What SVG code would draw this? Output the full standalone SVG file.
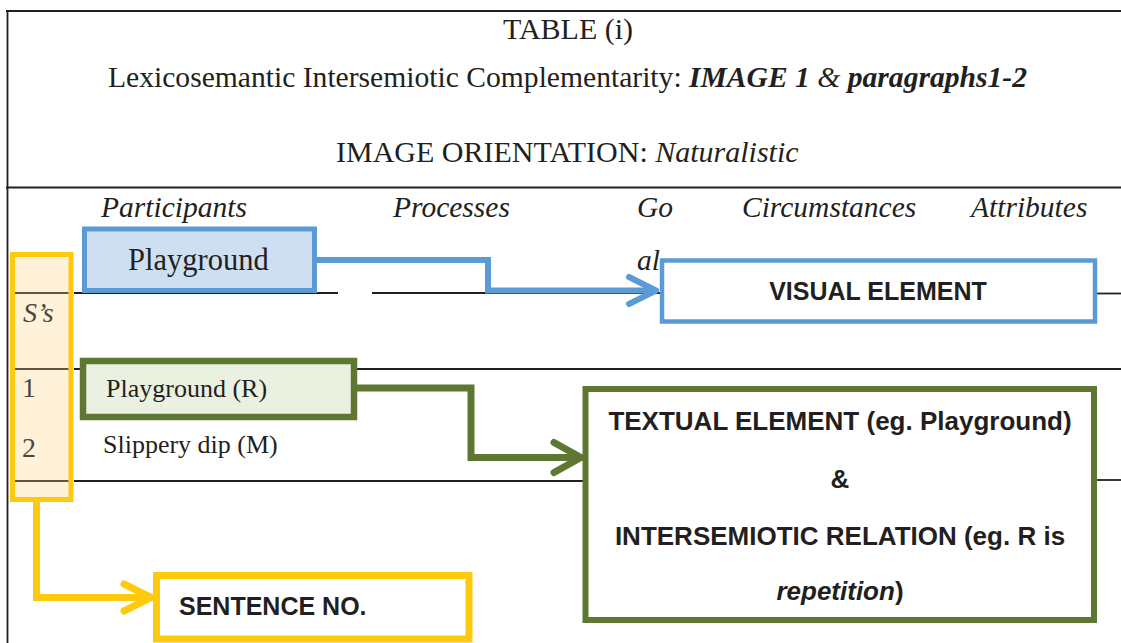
<svg xmlns="http://www.w3.org/2000/svg" width="1121" height="643" viewBox="0 0 1121 643">
<style>
.serif{font-family:"Liberation Serif","Times New Roman",serif;fill:#231f20}
.hdr{font-family:"Liberation Serif","Times New Roman",serif;font-style:italic;font-size:29.5px;fill:#231f20}
.sans{font-family:"Liberation Sans",Arial,sans-serif;font-weight:bold;fill:#231f20}
.rule{stroke:#231f20;stroke-width:1.8;fill:none}
.rule-in{stroke:#5c5546;stroke-width:1.8;fill:none}
.col-txt{font-family:"Liberation Serif","Times New Roman",serif;fill:#4a4740}
.conn{fill:none;stroke-linejoin:miter}
</style>
<defs>
<marker id="arrBlue" markerUnits="userSpaceOnUse" viewBox="0 0 40 40" markerWidth="40" markerHeight="40" refX="34" refY="20" orient="auto">
<path d="M7 6.5 L34 20 L7 33.5" fill="none" stroke="#5b9bd5" stroke-width="6" stroke-linecap="round" stroke-linejoin="round"/>
</marker>
<marker id="arrGreen" markerUnits="userSpaceOnUse" viewBox="0 0 40 40" markerWidth="40" markerHeight="40" refX="34" refY="20" orient="auto">
<path d="M7 5 L34 20 L7 35" fill="none" stroke="#5e7834" stroke-width="7" stroke-linecap="round" stroke-linejoin="round"/>
</marker>
<marker id="arrYellow" markerUnits="userSpaceOnUse" viewBox="0 0 40 40" markerWidth="40" markerHeight="40" refX="34" refY="20" orient="auto">
<path d="M7 6.5 L34 20 L7 33.5" fill="none" stroke="#ffc90e" stroke-width="7" stroke-linecap="round" stroke-linejoin="round"/>
</marker>
</defs>
<rect width="1121" height="643" fill="#ffffff"/>

<g id="table">
<line class="rule" x1="6" y1="11" x2="1121" y2="11" stroke-width="2.5"/>
<line class="rule" x1="7.5" y1="10" x2="7.5" y2="643" stroke-width="2"/>
<line class="rule" x1="6" y1="187.5" x2="1121" y2="187.5" stroke-width="3.5"/>
<text class="serif" x="503" y="39" font-size="30">TABLE (i)</text>
<text class="serif" x="108" y="87" font-size="29.6">Lexicosemantic Intersemiotic Complementarity: <tspan font-style="italic" font-weight="bold">IMAGE 1</tspan> <tspan font-style="italic">&amp;</tspan> <tspan font-style="italic" font-weight="bold">paragraphs1-2</tspan></text>
<text class="serif" x="336" y="162" font-size="30">IMAGE ORIENTATION: <tspan font-style="italic">Naturalistic</tspan></text>
<text class="hdr" x="101" y="217">Participants</text>
<text class="hdr" x="393" y="217">Processes</text>
<text class="hdr" x="637" y="217">Go</text>
<text class="hdr" x="742" y="217">Circumstances</text>
<text class="hdr" x="971" y="217">Attributes</text>
<text class="hdr" x="637" y="270">al</text>
<line class="rule" x1="74" y1="293" x2="338" y2="293"/>
<line class="rule" x1="372" y1="293" x2="662" y2="293"/>
<line class="rule" x1="1097" y1="293.5" x2="1121" y2="293.5"/>
<line class="rule" x1="74" y1="369" x2="1121" y2="369"/>
<line class="rule" x1="74" y1="481" x2="586" y2="481"/>
<line class="rule" x1="1094" y1="480" x2="1121" y2="480"/>
<text class="serif" x="103" y="453" font-size="26">Slippery dip (M)</text>
</g>

<g id="node-sentence-column">
<rect x="12.5" y="254.5" width="58.5" height="245" fill="#fff2d9" stroke="#ffc90e" stroke-width="5"/>
<line class="rule-in" x1="15" y1="293" x2="68.5" y2="293"/>
<line class="rule-in" x1="15" y1="369" x2="68.5" y2="369"/>
<line class="rule-in" x1="15" y1="481" x2="68.5" y2="481"/>
<text class="col-txt" x="23" y="322" font-size="28" font-style="italic">S’s</text>
<text class="col-txt" x="22" y="397" font-size="28">1</text>
<text class="col-txt" x="22" y="457" font-size="28">2</text>
</g>

<g id="connectors">
<path class="conn" d="M317 260 H488 V290.5 H656" stroke="#5b9bd5" stroke-width="6" marker-end="url(#arrBlue)"/>
<path class="conn" d="M357 388 H471 V457.5 H581" stroke="#5e7834" stroke-width="7" marker-end="url(#arrGreen)"/>
<path class="conn" d="M36.5 500 V597.5 H151" stroke="#ffc90e" stroke-width="7" marker-end="url(#arrYellow)"/>
</g>

<g id="node-playground-visual">
<rect x="84.5" y="229" width="230" height="61.5" fill="#cfdff2" stroke="#5b9bd5" stroke-width="5"/>
<text class="serif" x="128" y="270" font-size="30.5">Playground</text>
</g>

<g id="node-visual-element">
<rect x="662" y="260.5" width="433" height="61" fill="#ffffff" stroke="#5b9bd5" stroke-width="4.5"/>
<text class="sans" x="878" y="300" font-size="25" text-anchor="middle">VISUAL ELEMENT</text>
</g>

<g id="node-playground-textual">
<rect x="83" y="361" width="271" height="56" fill="#ebf1e0" stroke="#5e7834" stroke-width="6.5"/>
<text class="serif" x="106" y="397" font-size="26">Playground (R)</text>
</g>

<g id="node-textual-element">
<rect x="585.5" y="389" width="508.5" height="231" fill="#ffffff" stroke="#5e7834" stroke-width="6"/>
<text class="sans" x="840" y="430" font-size="26" text-anchor="middle">TEXTUAL ELEMENT (eg. Playground)</text>
<text class="sans" x="840" y="488" font-size="26" text-anchor="middle">&amp;</text>
<text class="sans" x="840" y="545" font-size="26" text-anchor="middle">INTERSEMIOTIC RELATION (eg. R is</text>
<text class="sans" x="840" y="600" font-size="26" text-anchor="middle"><tspan font-style="italic">repetition</tspan>)</text>
</g>

<g id="node-sentence-no">
<rect x="156.5" y="575.5" width="312.5" height="63.5" fill="#ffffff" stroke="#ffc90e" stroke-width="7"/>
<text class="sans" x="179" y="615" font-size="25">SENTENCE NO.</text>
</g>
</svg>
